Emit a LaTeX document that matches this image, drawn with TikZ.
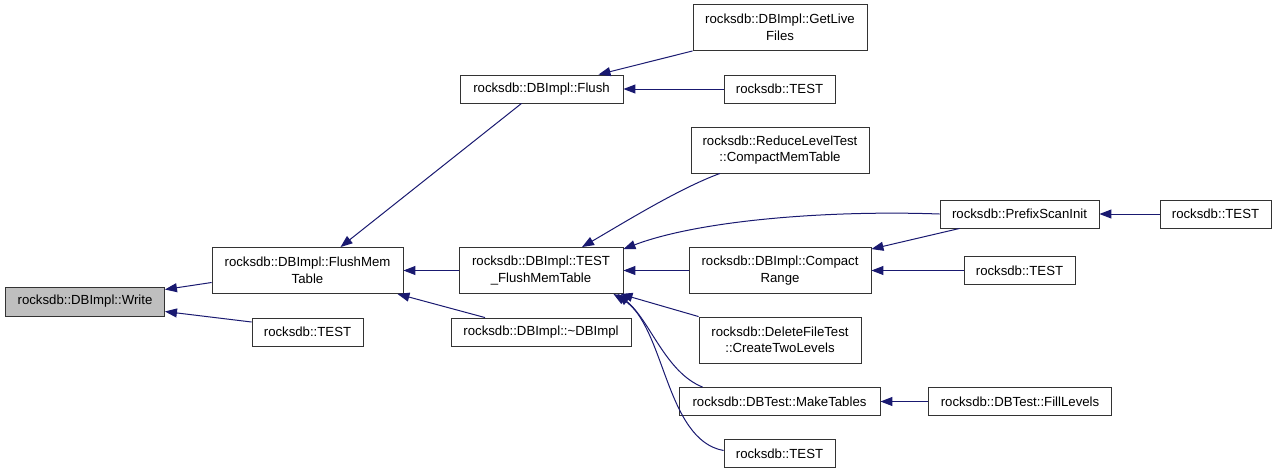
\documentclass[tikz,border=0pt]{standalone}
\usepackage{fontspec}
\setmainfont{Liberation Sans}
\usetikzlibrary{arrows.meta}
\definecolor{navy}{HTML}{191970}
\definecolor{boxgray}{HTML}{BFBFBF}
\tikzset{
  box/.style={draw=black!80, fill=white, line width=0.9pt, inner sep=0pt, align=center,
    font=\fontsize{13.2}{16.5}\selectfont},
  edge/.style={draw=navy, line width=1pt, -{Triangle[length=12pt,width=9pt]}}
}
\begin{document}
\begin{tikzpicture}[x=1pt,y=-1pt]
\useasboundingbox (0,0) rectangle (1277,475);
% nodes
\node[box, fill=boxgray, minimum width=159pt, minimum height=29pt] (write) at (85,301.5) {rocksdb::DBImpl::Write};
\node[box, minimum width=191pt, minimum height=46pt] (fmt) at (307.5,270.5) {rocksdb::DBImpl::FlushMem\\Table};
\node[box, minimum width=111pt, minimum height=28pt] (t1) at (307.5,332) {rocksdb::TEST};
\node[box, minimum width=163pt, minimum height=28pt] (flush) at (541.5,89) {rocksdb::DBImpl::Flush};
\node[box, minimum width=164pt, minimum height=46pt] (tfmt) at (541,270.5) {rocksdb::DBImpl::TEST\\\_FlushMemTable};
\node[box, minimum width=180pt, minimum height=28pt] (dtor) at (541,332) {rocksdb::DBImpl::\textasciitilde DBImpl};
\node[box, minimum width=174pt, minimum height=46pt] (glf) at (780,27.5) {rocksdb::DBImpl::GetLive\\Files};
\node[box, minimum width=111pt, minimum height=28pt] (t2) at (779.5,89) {rocksdb::TEST};
\node[box, minimum width=178pt, minimum height=46pt] (rlt) at (780,150) {rocksdb::ReduceLevelTest\\::CompactMemTable};
\node[box, minimum width=182pt, minimum height=46pt] (cr) at (780,270.5) {rocksdb::DBImpl::Compact\\Range};
\node[box, minimum width=162pt, minimum height=46pt] (dft) at (780,340) {rocksdb::DeleteFileTest\\::CreateTwoLevels};
\node[box, minimum width=201pt, minimum height=28pt] (mt) at (779.5,401.5) {rocksdb::DBTest::MakeTables};
\node[box, minimum width=111pt, minimum height=28pt] (t3) at (779.5,453.5) {rocksdb::TEST};
\node[box, minimum width=159pt, minimum height=28pt] (psi) at (1019.5,214) {rocksdb::PrefixScanInit};
\node[box, minimum width=111pt, minimum height=28pt] (t4) at (1019.5,270.5) {rocksdb::TEST};
\node[box, minimum width=111pt, minimum height=28pt] (t5) at (1215.5,214) {rocksdb::TEST};
\node[box, minimum width=183pt, minimum height=28pt] (fill) at (1020,401.5) {rocksdb::DBTest::FillLevels};
% edges
\draw[edge] ([yshift=-12pt]fmt.west) -- ([yshift=12pt]write.east);
\draw[edge] ([yshift=10pt]t1.west) -- ([yshift=-10pt]write.east);
\draw[edge] ([xshift=-20pt]flush.south) -- ([xshift=33pt]fmt.north);
\draw[edge] (tfmt.west) -- (fmt.east);
\draw[edge] ([xshift=-56pt]dtor.north) -- ([xshift=-6pt]fmt.south east);
\draw[edge] (glf.south west) -- ([xshift=57pt]flush.north);
\draw[edge] (t2.west) -- (flush.east);
\draw[edge] ([xshift=-60pt]rlt.south) .. controls (680,188) and (625,222) .. ([xshift=41pt]tfmt.north);
\draw[edge] (psi.west) .. controls (830,210) and (700,220) .. ([yshift=-2pt]tfmt.north east);
\draw[edge] (cr.west) -- (tfmt.east);
\draw[edge] (dft.north west) -- ([xshift=-3pt]tfmt.south east);
\draw[edge] ([xshift=24pt]mt.north west) .. controls (665,372) and (650,320) .. ([xshift=-6pt]tfmt.south east);
\draw[edge] ([yshift=3pt]t3.west) .. controls (665,440) and (665,325) .. ([xshift=-10pt]tfmt.south east);
\draw[edge] ([xshift=20pt]psi.south west) -- ([yshift=-2pt]cr.north east);
\draw[edge] (t4.west) -- (cr.east);
\draw[edge] (t5.west) -- (psi.east);
\draw[edge] (fill.west) -- (mt.east);
\end{tikzpicture}
\end{document}
